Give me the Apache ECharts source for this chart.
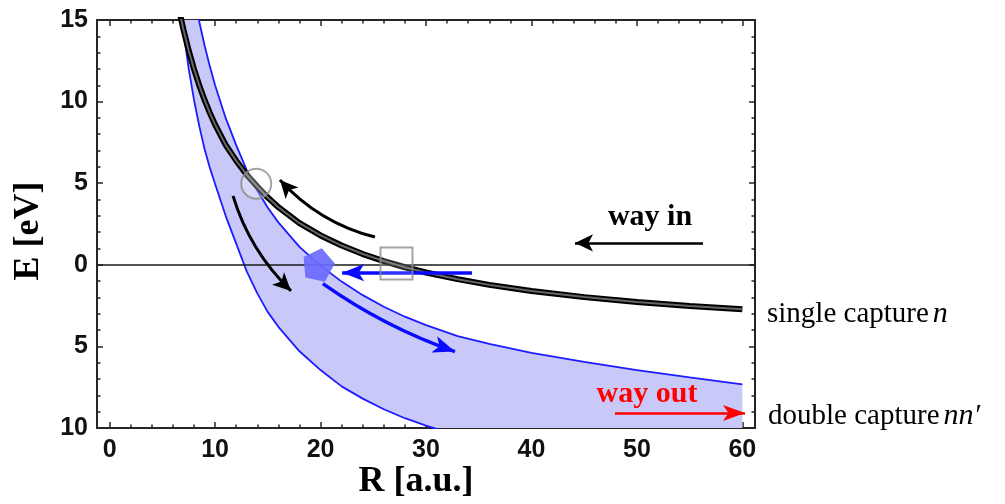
<!DOCTYPE html>
<html>
<head>
<meta charset="utf-8">
<script src="https://cdn.jsdelivr.net/npm/echarts@6/dist/echarts.min.js"></script>
<style>
  html, body { margin: 0; padding: 0; background: #ffffff; }
  #main { width: 1005px; height: 504px; }
</style>
</head>
<body>
<div id="main"></div>
<script>
// Single-capture potential curve n (R in a.u., E in eV)
const singleR = [6.7, 7, 7.5, 8, 8.5, 9, 9.5, 10, 11, 12, 13, 14, 15, 16, 18, 20, 22, 24, 26, 28, 30, 33, 36, 40, 45, 50, 55, 60];
const singleE = [15.28, 14.41, 13.12, 11.99, 10.99, 10.10, 9.31, 8.59, 7.35, 6.38, 5.52, 4.80, 4.12, 3.53, 2.55, 1.80, 1.18, 0.66, 0.23, -0.15, -0.47, -0.88, -1.23, -1.60, -1.98, -2.28, -2.53, -2.73];

// Double-capture band nn', upper edge
const bandUpperR = [8, 8.5, 9, 9.5, 10, 11, 12, 13, 14, 15, 16, 18, 20, 22, 24, 26, 28, 30, 33, 36, 40, 45, 50, 55, 60];
const bandUpperE = [16.5, 14.89, 13.45, 12.16, 11.0, 9.0, 7.33, 5.8, 4.55, 3.5, 2.6, 1.1, -0.05, -1.03, -1.86, -2.57, -3.18, -3.7, -4.37, -4.85, -5.4, -5.95, -6.45, -6.9, -7.33];

// Double-capture band nn', lower edge
const bandLowerR = [6.85, 7.5, 8, 8.5, 9, 9.5, 10, 11, 12, 13, 14, 15, 16, 18, 20, 22, 24, 26, 28, 30, 32, 36, 40, 50, 60];
const bandLowerE = [15.0, 12.0, 10.1, 8.5, 7.1, 5.95, 4.95, 3.0, 1.3, -0.4, -1.75, -2.9, -3.8, -5.3, -6.45, -7.45, -8.2, -8.85, -9.4, -9.85, -10.25, -10.9, -11.4, -12.3, -13.0];

// Axis ticks
const xMajorTicks = [0, 10, 20, 30, 40, 50, 60];
const xMinorTicks = [0, 2, 4, 6, 8, 10, 12, 14, 16, 18, 20, 22, 24, 26, 28, 30, 32, 34, 36, 38, 40, 42, 44, 46, 48, 50, 52, 54, 56, 58, 60];
const yMajorTicks = [-10, -5, 0, 5, 10, 15];
const yMinorTicks = [-10, -9, -8, -7, -6, -5, -4, -3, -2, -1, 0, 1, 2, 3, 4, 5, 6, 7, 8, 9, 10, 11, 12, 13, 14, 15];

// Markers [R, E]
const circleMark = [13.9, 4.97];
const squareMark = [27.2, 0.08];
const pentagonMark = [19.8, 0.05];

// Arrows: [[R start, E start], [R end, E end]]
const arrowAlongSingle = [[25.16, 1.70], [16.15, 5.20]];
const arrowIntoBand = [[11.70, 4.22], [17.20, -1.60]];
const arrowBlueIn = [[34.36, -0.48], [22.05, -0.48]];
const arrowBlueOut = [[20.22, -1.15], [32.75, -5.32]];
const arrowWayIn = [[56.27, 1.34], [44.13, 1.34]];
const arrowWayOut = [[47.92, -9.08], [60.25, -9.08]];

const pairs = (xs, ys) => xs.map((x, i) => [x, ys[i]]);

const frameColor = '#262626';
const tickFont = { fontFamily: 'Liberation Sans', fontWeight: 'bold', fontSize: 25, color: '#111' };
const xRange = { min: -1.2, max: 61.2 };
const yRange = { min: -10, max: 15 };
const plotBox = { left: 97, right: 250, top: 20, bottom: 76, outerBoundsMode: 'none', containLabel: false };

// One frame side: line + inward ticks at the given values
function frameAxis(range, gridIndex, pos, ticks, len, withLine, label) {
  return Object.assign({
    type: 'value',
    gridIndex: gridIndex,
    position: pos,
    axisLine: { show: withLine, onZero: false, lineStyle: { color: frameColor, width: 2 } },
    axisTick: { show: true, inside: true, length: len, customValues: ticks, lineStyle: { color: frameColor, width: 1.5 } },
    axisLabel: label || { show: false },
    splitLine: { show: false },
    minorTick: { show: false }
  }, range);
}

const chart = echarts.init(document.getElementById('main'), null, { renderer: 'canvas' });

chart.setOption({
  animation: false,
  backgroundColor: '#ffffff',
  // grid 0 carries the data and major ticks, grid 1 (same box) the minor ticks
  grid: [Object.assign({}, plotBox), Object.assign({}, plotBox)],
  xAxis: [
    frameAxis(xRange, 0, 'bottom', xMajorTicks, 6, true, Object.assign({ show: true, customValues: xMajorTicks, margin: 10 }, tickFont)),
    frameAxis(xRange, 0, 'top', xMajorTicks, 6, true),
    frameAxis(xRange, 1, 'bottom', xMinorTicks, 3.5, false),
    frameAxis(xRange, 1, 'top', xMinorTicks, 3.5, false)
  ],
  yAxis: [
    frameAxis(yRange, 0, 'left', yMajorTicks, 6, true, Object.assign({
      show: true, customValues: yMajorTicks, margin: 9,
      formatter: v => String(Math.abs(v))
    }, tickFont)),
    frameAxis(yRange, 0, 'right', yMajorTicks, 6, true),
    frameAxis(yRange, 1, 'left', yMinorTicks, 3.5, false),
    frameAxis(yRange, 1, 'right', yMinorTicks, 3.5, false)
  ],
  series: [
    {
      // shaded double-capture band between the two blue edges
      type: 'custom',
      coordinateSystem: 'cartesian2d',
      xAxisIndex: 0, yAxisIndex: 0,
      clip: true,
      silent: true,
      z: 1,
      data: [0],
      renderItem: function (params, api) {
        const pts = [];
        for (let i = 0; i < bandUpperR.length; i++) pts.push(api.coord([bandUpperR[i], bandUpperE[i]]));
        for (let i = bandLowerR.length - 1; i >= 0; i--) pts.push(api.coord([bandLowerR[i], bandLowerE[i]]));
        return { type: 'polygon', shape: { points: pts }, style: { fill: '#c9c9f9', stroke: null } };
      },
      markLine: {
        silent: true,
        symbol: 'none',
        label: { show: false },
        lineStyle: { color: '#1a1a1a', width: 1.6, type: 'solid' },
        data: [{ yAxis: 0 }]
      }
    },
    {
      type: 'line', data: pairs(bandUpperR, bandUpperE), showSymbol: false, clip: true, z: 3,
      lineStyle: { color: '#1c1cff', width: 1.8 }
    },
    {
      type: 'line', data: pairs(bandLowerR, bandLowerE), showSymbol: false, clip: true, z: 3,
      lineStyle: { color: '#1c1cff', width: 1.8 }
    },
    {
      type: 'line', data: pairs(singleR, singleE), showSymbol: false, clip: true, z: 4,
      lineStyle: { color: '#000000', width: 6 }
    },
    {
      type: 'line', data: pairs(singleR, singleE), showSymbol: false, clip: true, z: 5,
      lineStyle: { color: '#666666', width: 2 }
    },
    {
      type: 'lines', coordinateSystem: 'cartesian2d', z: 6, silent: true,
      symbol: ['none', 'arrow'], symbolSize: [0, [13, 18]],
      lineStyle: { color: '#000000', width: 3, opacity: 1 },
      data: [
        { coords: arrowAlongSingle, lineStyle: { curveness: 0.15 } },
        { coords: arrowIntoBand, lineStyle: { curveness: -0.13 } },
        { coords: arrowWayIn, lineStyle: { curveness: 0, width: 2.5 } }
      ]
    },
    {
      type: 'lines', coordinateSystem: 'cartesian2d', z: 6, silent: true,
      symbol: ['none', 'arrow'], symbolSize: [0, [13, 22]],
      lineStyle: { color: '#0a0aff', width: 3.5, opacity: 1 },
      data: [
        { coords: arrowBlueIn, lineStyle: { curveness: 0 } },
        { coords: arrowBlueOut, lineStyle: { curveness: -0.07 } }
      ]
    },
    {
      type: 'lines', coordinateSystem: 'cartesian2d', z: 6, silent: true,
      symbol: ['none', 'arrow'], symbolSize: [0, [12, 22]],
      lineStyle: { color: '#ff0000', width: 2.5, opacity: 1 },
      data: [{ coords: arrowWayOut }]
    },
    {
      type: 'scatter', z: 8, silent: true,
      symbol: 'circle', symbolSize: 30,
      itemStyle: { color: 'rgba(255,255,255,0.35)', borderColor: '#8c8c8c', borderWidth: 2 },
      data: [circleMark]
    },
    {
      type: 'scatter', z: 8, silent: true,
      symbol: 'rect', symbolSize: 32,
      itemStyle: { color: 'rgba(255,255,255,0.2)', borderColor: '#8c8c8c', borderWidth: 2 },
      data: [squareMark]
    },
    {
      type: 'scatter', z: 8, silent: true,
      symbol: 'path://M0,-1 L0.951,-0.309 L0.588,0.809 L-0.588,0.809 L-0.951,-0.309 Z',
      symbolSize: 32, symbolRotate: -12,
      itemStyle: { color: '#6a6aff', opacity: 0.92 },
      data: [pentagonMark]
    }
  ],
  graphic: [
    {
      type: 'text', x: 29, y: 231, rotation: Math.PI / 2, silent: true, z: 100,
      style: { text: 'E [eV]', align: 'center', verticalAlign: 'middle', fontFamily: 'Liberation Serif', fontWeight: 'bold', fontSize: 36, fill: '#000' }
    },
    {
      type: 'text', x: 416, y: 482, silent: true, z: 100,
      style: { text: 'R [a.u.]', align: 'center', verticalAlign: 'middle', fontFamily: 'Liberation Serif', fontWeight: 'bold', fontSize: 36, fill: '#000' }
    },
    {
      type: 'text', x: 650, y: 217, silent: true, z: 100,
      style: { text: 'way in', align: 'center', verticalAlign: 'middle', fontFamily: 'Liberation Serif', fontWeight: 'bold', fontSize: 30, fill: '#000' }
    },
    {
      type: 'text', x: 647, y: 394, silent: true, z: 100,
      style: { text: 'way out', align: 'center', verticalAlign: 'middle', fontFamily: 'Liberation Serif', fontWeight: 'bold', fontSize: 30, fill: '#ff0000' }
    },
    {
      type: 'text', x: 767, y: 314, silent: true, z: 100,
      style: {
        text: '{a|single capture}{b|n}', verticalAlign: 'middle',
        rich: {
          a: { fontFamily: 'Liberation Serif', fontSize: 29, fill: '#000' },
          b: { fontFamily: 'Liberation Serif', fontStyle: 'italic', fontSize: 30, fill: '#000', padding: [0, 0, 0, 4] }
        }
      }
    },
    {
      type: 'text', x: 768, y: 416, silent: true, z: 100,
      style: {
        text: '{a|double capture}{b|nn\u2032}', verticalAlign: 'middle',
        rich: {
          a: { fontFamily: 'Liberation Serif', fontSize: 29, fill: '#000' },
          b: { fontFamily: 'Liberation Serif', fontStyle: 'italic', fontSize: 30, fill: '#000', padding: [0, 0, 0, 4] }
        }
      }
    }
  ]
});
</script>
</body>
</html>
